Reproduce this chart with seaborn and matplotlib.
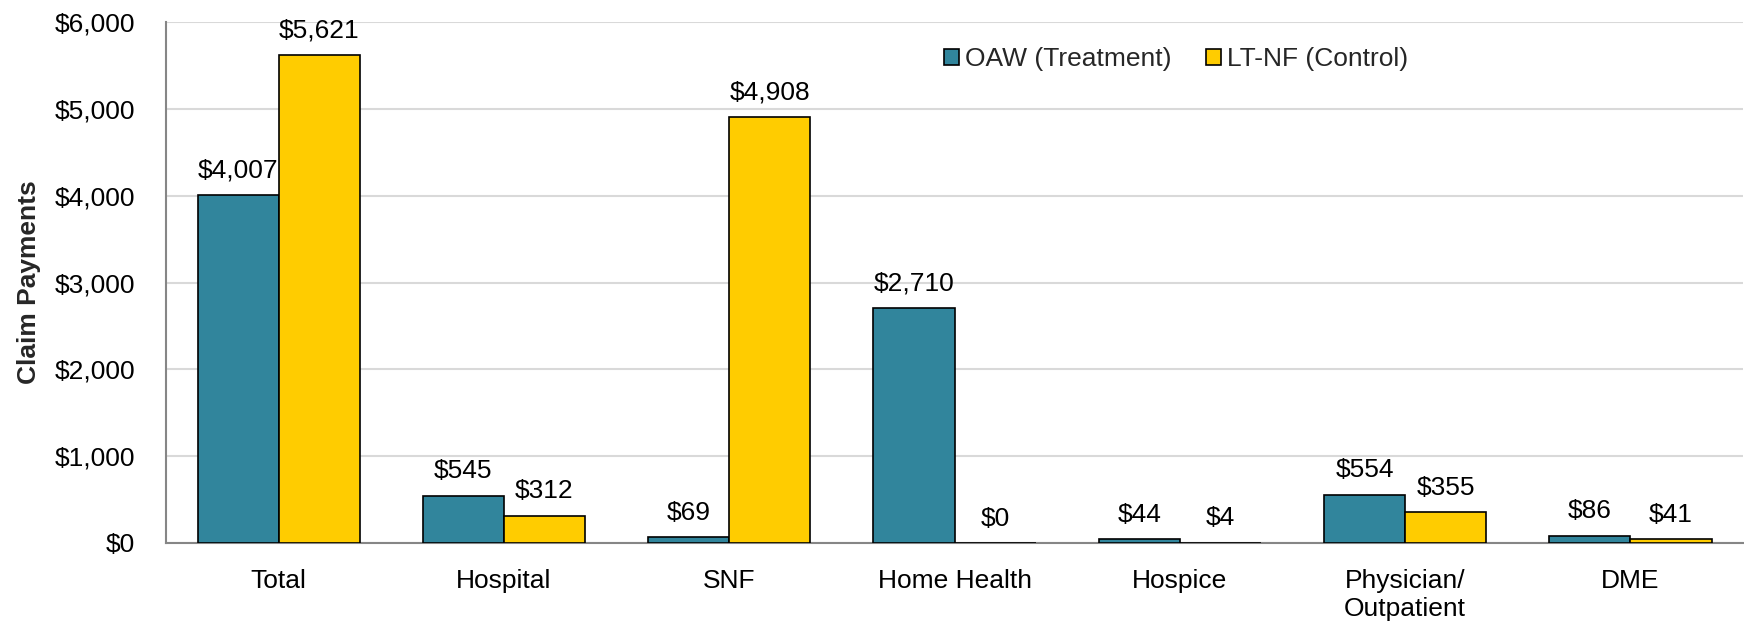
import numpy as np
import pandas as pd
import matplotlib
matplotlib.use("Agg")
import matplotlib.pyplot as plt
import seaborn as sns

# ------- data -------
categories = ["Total", "Hospital", "SNF", "Home Health", "Hospice", "Physician/\nOutpatient", "DME"]
treatment  = [4007, 545, 69, 2710, 44, 554, 86]
control    = [5621, 312, 4908, 0, 4, 355, 41]
series     = ["OAW (Treatment)", "LT-NF (Control)"]
colors     = ["#31859C", "#FFCC00"]

df = pd.DataFrame({
    "category": categories * 2,
    "group":    [series[0]] * len(categories) + [series[1]] * len(categories),
    "value":    treatment + control,
})

sns.set_style("white")
plt.rcParams["font.family"] = ["Liberation Sans", "DejaVu Sans"]

fs = 19

fig = plt.figure(figsize=(17.44, 6.27), dpi=100)
ax = fig.add_axes([166/1744, 1 - 543/627, 1 - 166/1744 - 0.0005, (543 - 22)/627])

sns.barplot(data=df, x="category", y="value", hue="group", palette=colors,
            edgecolor="black", linewidth=1.2, width=0.72, saturation=1,
            errorbar=None, ax=ax, zorder=3)

# value labels above bars
for cont in ax.containers:
    ax.bar_label(cont, labels=[f"${v:,.0f}" for v in cont.datavalues],
                 padding=9, fontsize=fs, color="black")

ax.set_ylim(0, 6000)
ax.set_yticks(np.arange(0, 6001, 1000))
ax.set_yticklabels([f"${t:,.0f}" for t in np.arange(0, 6001, 1000)], fontsize=fs)
ax.tick_params(axis="x", labelsize=fs, length=0, pad=19, labelcolor="black")
ax.tick_params(axis="y", length=0, pad=22, labelcolor="black")
ax.set_xlabel("")
ax.set_ylabel("Claim Payments", fontsize=fs, fontweight="bold", labelpad=10)

ax.yaxis.grid(True, color="#D9D9D9", linewidth=1.5, zorder=0)
ax.set_axisbelow(True)
for s in ["top", "right"]:
    ax.spines[s].set_visible(False)
for s in ["left", "bottom"]:
    ax.spines[s].set_color("#868686")
    ax.spines[s].set_linewidth(1.5)

leg = ax.legend(loc="upper left", bbox_to_anchor=(0.478, 0.997), ncol=2, frameon=False,
                fontsize=fs, handlelength=0.6, handleheight=0.6, handletextpad=0.2,
                columnspacing=1.3)

fig.savefig("out.png", dpi=100)
